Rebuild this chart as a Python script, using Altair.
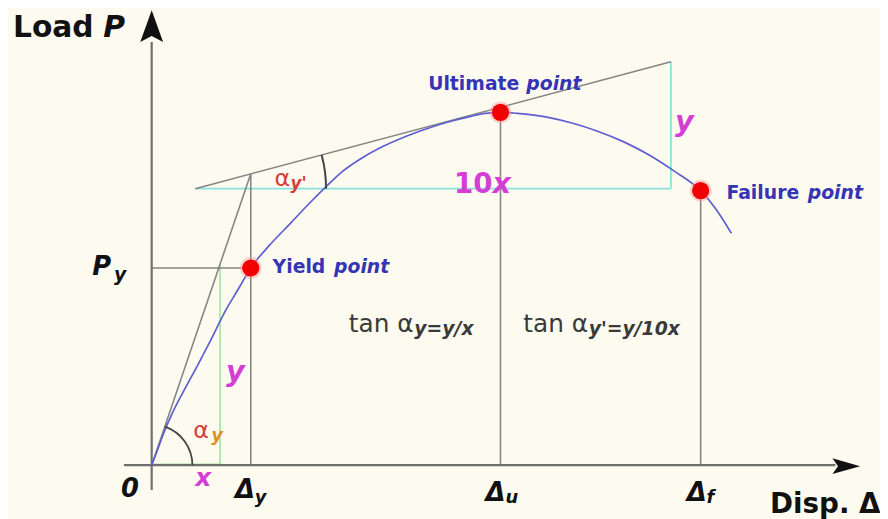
import math
import altair as alt
import pandas as pd

FONT = "DejaVu Sans"

# ---- data (units: X to the right of origin, Y above origin) ----
curve_x = [0, 5, 12, 22, 34, 47, 60, 74, 87, 100, 119, 140, 157, 175, 192, 209, 232, 257,
           282, 302, 322, 337, 352, 369, 400, 425, 450, 477, 502, 527, 554, 569, 585]
curve_y = [0, 13, 32, 55, 78, 102, 127, 155, 177, 199, 222, 244, 262, 280, 296, 308, 321, 332,
           341, 347, 352, 355, 356, 355, 351, 345, 337, 326, 313, 297, 277, 259, 234]

point_names = ["Yield", "Ultimate", "Failure"]
point_x = [100, 352, 554]
point_y = [199, 356, 277]

# tangent line at the ultimate region, and the secant from the origin
tangent_x = [44, 524]
tangent_y = [279, 407]
secant_x = [0, 100]
secant_y = [0, 294]
green_x = 69          # end of the "x" leg
green_top = 203       # where the "y" leg meets the secant

# axes extents
xaxis_x = [-28, 690]
yaxis_y = [-25, 427]

XDOM = [-145, 735]
YDOM = [-52, 459]

X = alt.X("x:Q", scale=alt.Scale(domain=XDOM, nice=False, zero=False), axis=None)
Y = alt.Y("y:Q", scale=alt.Scale(domain=YDOM, nice=False, zero=False), axis=None)


def rules(segs, color, width):
    df = pd.DataFrame(segs, columns=["x", "y", "x2", "y2"])
    return alt.Chart(df).mark_rule(color=color, strokeWidth=width, strokeCap="butt").encode(
        x=X, y=Y, x2="x2:Q", y2="y2:Q")


def txt(rows, size, color, weight="bold", style="normal"):
    df = pd.DataFrame(rows, columns=["x", "y", "t"])
    return alt.Chart(df).mark_text(
        align="left", baseline="alphabetic", font=FONT, fontSize=size,
        fontWeight=weight, fontStyle=style, color=color).encode(x=X, y=Y, text="t:N")


# ---- guide lines ----
gray = rules([
    [tangent_x[0], tangent_y[0], tangent_x[1], tangent_y[1]],
    [secant_x[0], secant_y[0], secant_x[1], secant_y[1]],
    [point_x[0], 0, point_x[0], secant_y[1]],
    [point_x[1], 0, point_x[1], point_y[1]],
    [point_x[2], 0, point_x[2], point_y[2]],
    [0, point_y[0], point_x[0], point_y[0]],
], "#858585", 1.6)

cyan = rules([
    [tangent_x[0], tangent_y[0], tangent_x[1], tangent_y[0]],
    [tangent_x[1], tangent_y[0], tangent_x[1], tangent_y[1]],
], "#86e4dc", 1.8)

axes = rules([
    [xaxis_x[0], 0, xaxis_x[1], 0],
    [0, yaxis_y[0], 0, yaxis_y[1]],
], "#6e6e6e", 2.2)

green = rules([
    [0, 0.8, green_x, 0.8],
    [green_x, 0, green_x, green_top],
], "#9ee49a", 1.6)

curve_df = pd.DataFrame({"x": curve_x, "y": curve_y, "i": range(len(curve_x))})
curve = alt.Chart(curve_df).mark_line(color="#5e5ed0", strokeWidth=1.7, interpolate="monotone").encode(
    x=X, y=Y, order="i:Q")

pts_df = pd.DataFrame({"x": point_x, "y": point_y, "n": point_names})
halo = alt.Chart(pts_df).mark_circle(size=480, color="#ff9a9a", opacity=0.45).encode(x=X, y=Y)
pts = alt.Chart(pts_df).mark_circle(size=300, color="#f00000", opacity=1).encode(x=X, y=Y)

# ---- angle arcs ----
a1 = math.degrees(math.atan2(secant_y[1], secant_x[1]))
a2 = math.degrees(math.atan2(tangent_y[1] - tangent_y[0], tangent_x[1] - tangent_x[0]))
arc1 = alt.Chart(pd.DataFrame({"x": [0], "y": [0]})).mark_arc(
    radius=42, radius2=40.2, theta=math.radians(90 - a1), theta2=math.radians(90),
    color="#444444").encode(x=X, y=Y)
arc2 = alt.Chart(pd.DataFrame({"x": [tangent_x[0]], "y": [tangent_y[0]]})).mark_arc(
    radius=133, radius2=131, theta=math.radians(90 - a2), theta2=math.radians(90),
    color="#444444").encode(x=X, y=Y)

# ---- arrow heads ----
up_df = pd.DataFrame({"x": [0], "y": [443]})
right_df = pd.DataFrame({"x": [701], "y": [-1]})
arrow_up = alt.Chart(up_df).mark_point(
    shape="M0,-1L0.72,1L0,0.62L-0.72,1Z", size=1024, filled=True, color="#111111", opacity=1
).encode(x=X, y=Y)
arrow_right = alt.Chart(right_df).mark_point(
    shape="M1,0L-1,0.56L-0.6,0L-1,-0.56Z", size=784, filled=True, color="#111111", opacity=1
).encode(x=X, y=Y)

# ---- labels ----
BLUE = "#3434b4"
MAG = "#d43ed4"
RED = "#d83c3c"
BLK = "#111111"
DARK = "#3a3a3a"

layers = [
    cyan, green, gray, axes, curve, arc1, arc2, halo, pts, arrow_up, arrow_right,
    txt([[-140, 432, "Load"]], 30, BLK),
    txt([[-49, 432, "P"]], 30, BLK, style="italic"),
    txt([[624, -48, "Disp. Δ"]], 28, BLK),
    txt([[279, 379, "Ultimate"], [580, 269, "Failure"], [122, 194, "Yield"]], 19, BLUE),
    txt([[378, 379, "point"], [662, 269, "point"], [184, 194, "point"]], 19, BLUE, style="italic"),
    txt([[305, 275, "10"]], 28, MAG),
    txt([[344, 275, "x"], [528, 337, "y"], [75, 85, "y"]], 29, MAG, style="italic"),
    txt([[44, -21, "x"]], 25, MAG, style="italic"),
    txt([[124, 282, "α"], [42, 27, "α"]], 24, RED, weight="normal"),
    txt([[140, 279, "y'"]], 17, RED, style="italic"),
    txt([[60, 24, "y"]], 18, "#e0902a", style="italic"),
    txt([[-60, 192, "P"]], 26, BLK, style="italic"),
    txt([[-38, 186, "y"]], 19, BLK, style="italic"),
    txt([[-31, -32, "0"]], 26, BLK, style="italic"),
    txt([[84, -33, "Δ"], [337, -36, "Δ"], [540, -36, "Δ"]], 26, BLK, style="italic"),
    txt([[104, -38, "y"], [357, -38, "u"], [560, -38, "f"]], 18, BLK, style="italic"),
    txt([[199, 134, "tan α"], [375, 134, "tan α"]], 25, DARK, weight="normal"),
    txt([[265, 131, "y=y/x"], [441, 131, "y'=y/10x"]], 19, DARK, style="italic"),
]

chart = alt.layer(*layers).properties(
    width=880, height=511, padding=0, autosize="none"
).configure(background="#fdfbf0").configure_view(stroke=None)

chart.save("out.html", embed_options={"renderer": "svg", "actions": False})
